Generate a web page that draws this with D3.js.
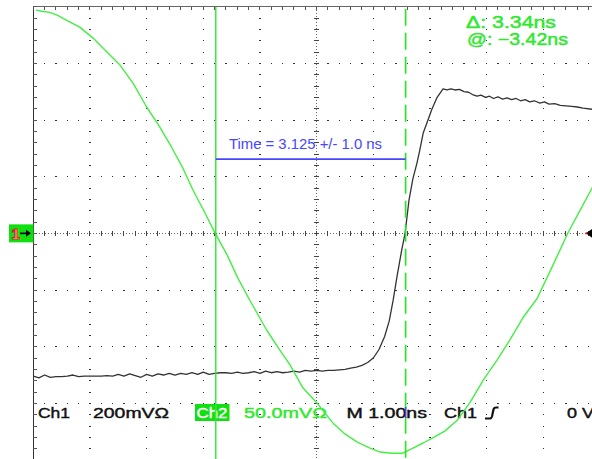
<!DOCTYPE html>
<html><head><meta charset="utf-8">
<script src="https://cdn.jsdelivr.net/npm/d3@7/dist/d3.min.js"></script>
<style>html,body{margin:0;padding:0;background:#fff;overflow:hidden}</style>
</head><body>
<svg id="c" width="592" height="459"></svg>
<script>
// ---- data (time in ns, amplitude in divisions) ----
const ch1T = [-5.00,-4.90,-4.80,-4.70,-4.60,-4.50,-4.40,-4.30,-4.20,-4.10,-4.00,-3.90,-3.80,-3.70,-3.60,-3.50,-3.40,-3.30,-3.20,-3.10,-3.00,-2.90,-2.80,-2.70,-2.60,-2.50,-2.40,-2.30,-2.20,-2.10,-2.00,-1.90,-1.80,-1.70,-1.60,-1.50,-1.40,-1.30,-1.20,-1.10,-1.00,-0.90,-0.80,-0.70,-0.60,-0.50,-0.40,-0.30,-0.20,-0.10,0.00,0.10,0.20,0.30,0.40,0.50,0.60,0.70,0.80,0.90,1.00,1.10,1.20,1.28,1.35,1.42,1.50,1.56,1.63,1.70,1.77,1.82,1.88,1.95,2.03,2.12,2.23,2.30,2.37,2.44,2.52,2.60,2.68,2.75,2.83,2.90,2.98,3.05,3.12,3.20,3.28,3.36,3.44,3.52,3.60,3.68,3.76,3.84,3.94,4.02,4.10,4.20,4.30,4.40,4.50,4.60,4.70,4.86,5.00];
const ch1V = [-2.52,-2.55,-2.50,-2.54,-2.53,-2.53,-2.52,-2.50,-2.53,-2.52,-2.52,-2.52,-2.52,-2.51,-2.52,-2.49,-2.52,-2.48,-2.51,-2.54,-2.49,-2.52,-2.48,-2.50,-2.47,-2.50,-2.47,-2.49,-2.46,-2.49,-2.45,-2.49,-2.47,-2.46,-2.46,-2.47,-2.45,-2.47,-2.46,-2.44,-2.47,-2.43,-2.46,-2.44,-2.46,-2.45,-2.43,-2.45,-2.42,-2.43,-2.42,-2.43,-2.42,-2.42,-2.41,-2.40,-2.38,-2.36,-2.33,-2.28,-2.20,-2.05,-1.82,-1.55,-1.18,-0.75,-0.30,0.00,0.59,0.97,1.24,1.47,1.77,1.96,2.18,2.39,2.55,2.53,2.55,2.53,2.54,2.50,2.49,2.45,2.42,2.44,2.40,2.42,2.38,2.41,2.37,2.39,2.36,2.38,2.34,2.36,2.32,2.34,2.30,2.32,2.28,2.29,2.26,2.25,2.24,2.23,2.21,2.19,2.17];
const ch2T = [-4.95,-4.85,-4.71,-4.58,-4.41,-4.18,-3.95,-3.70,-3.47,-3.24,-3.00,-2.77,-2.56,-2.36,-2.18,-1.97,-1.79,-1.58,-1.39,-1.18,-0.88,-0.65,-0.47,-0.24,0.01,0.29,0.50,0.71,0.94,1.12,1.33,1.52,1.70,1.88,2.05,2.26,2.48,2.71,2.94,3.18,3.41,3.64,3.89,4.17,4.44,4.65,4.86,5.00];
const ch2V = [3.94,3.92,3.90,3.85,3.76,3.64,3.45,3.20,2.97,2.65,2.23,1.88,1.52,1.15,0.76,0.36,0.00,-0.38,-0.79,-1.18,-1.71,-2.06,-2.32,-2.73,-3.00,-3.35,-3.54,-3.68,-3.79,-3.86,-3.88,-3.88,-3.79,-3.70,-3.61,-3.49,-3.30,-2.98,-2.59,-2.24,-1.88,-1.49,-1.15,-0.56,0.02,0.41,0.80,1.05];
const cursorA = -1.78, cursorB = 1.57, cursorLevel = 1.31;
const readoutTop = ["\u0394: 3.34ns", "@: \u22123.42ns"];
const measureLabel = "Time = 3.125 +/- 1.0 ns";
const statusLabels = ["Ch1", "200mV\u03A9", "Ch2", "50.0mV\u03A9", "M 1.00ns", "Ch1", "0 V"];

// ---- scales ----
const svg = d3.select("#c");
const x = d3.scaleLinear().domain([-5,5]).range([33.3,600]);
const y = d3.scaleLinear().domain([-4,4]).range([460,6.7]);
const GREEN = "#2fe82f", BLUE = "#4646ff";

// ---- graticule ----
const g = svg.append("g").attr("shape-rendering","crispEdges");
const minorV = d3.range(-20,21).map(i=>i*0.2);
const minorT = d3.range(-25,26).map(i=>i*0.2);
[-4,-3,-2,-1,1,2,3,4].forEach(t=>{
  g.selectAll(null).data(minorV).enter().append("rect")
   .attr("x",x(t)-0.5).attr("y",d=>y(d)-0.5).attr("width",1.2).attr("height",1.2).attr("fill","#333");
});
[-3,-2,-1,1,2,3].forEach(v=>{
  g.selectAll(null).data(minorT).enter().append("rect")
   .attr("x",d=>x(d)-0.5).attr("y",y(v)-0.5).attr("width",1.2).attr("height",1.2).attr("fill","#333");
});
// center axes
g.append("line").attr("x1",x(-5)).attr("x2",x(5)).attr("y1",y(0)).attr("y2",y(0))
 .attr("stroke","#666").attr("stroke-dasharray","1,2");
g.append("line").attr("x1",x(0)).attr("x2",x(0)).attr("y1",y(4)).attr("y2",y(-4))
 .attr("stroke","#666").attr("stroke-dasharray","1,2");
g.selectAll(null).data(minorT).enter().append("line")
 .attr("x1",d=>x(d)).attr("x2",d=>x(d)).attr("y1",y(0)-2.5).attr("y2",y(0)+2.5).attr("stroke","#444");
g.selectAll(null).data(minorV).enter().append("line")
 .attr("y1",d=>y(d)).attr("y2",d=>y(d)).attr("x1",x(0)-2.5).attr("x2",x(0)+2.5).attr("stroke","#444");
// borders
g.append("line").attr("x1",x(-5)).attr("x2",x(5)).attr("y1",y(4)).attr("y2",y(4)).attr("stroke","#666").attr("stroke-width",1.5);
g.append("line").attr("x1",x(-5)).attr("x2",x(-5)).attr("y1",y(4)).attr("y2",y(-4)).attr("stroke","#333").attr("stroke-width",1.6);
g.selectAll(null).data(minorV).enter().append("line")
 .attr("y1",d=>y(d)).attr("y2",d=>y(d)).attr("x1",x(-5)).attr("x2",x(-5)+3.5).attr("stroke","#555");
g.selectAll(null).data(minorT).enter().append("line")
 .attr("x1",d=>x(d)).attr("x2",d=>x(d)).attr("y1",y(4)).attr("y2",y(4)+3).attr("stroke","#555");

// ---- status text ----
const font = "'Liberation Sans', Arial, sans-serif";
function txt(s, x0, yb, w, size, col, sw){
  const t = svg.append("text").attr("x",x0).attr("y",yb).text(s)
    .attr("font-family",font).attr("font-size",size).attr("fill",col);
  if (w) t.attr("textLength",w).attr("lengthAdjust","spacingAndGlyphs");
  if (sw) t.attr("stroke",col).attr("stroke-width",sw);
  return t;
}
txt(statusLabels[0],38,418,32,15.5,"#111",0.45);
txt(statusLabels[1],93,418,76,15.5,"#111",0.45);
svg.append("rect").attr("x",195).attr("y",404).attr("width",34.5).attr("height",17).attr("fill","#10e010");
txt(statusLabels[2],196.5,418,31,15.5,"#fff",0.45);
txt(statusLabels[3],244,418,83,15.5,GREEN,0.45);
txt(statusLabels[4],346.5,418,80.5,15.5,"#111",0.45);
txt(statusLabels[5],444,418,33,15.5,"#111",0.45);
txt(statusLabels[6],567,418,27,15.5,"#111",0.45);
// trigger slope icon
svg.append("path").attr("d","M485,418.5 L490,418.5 Q492,418.5 492.5,414 L493.5,409.5 Q494,407.5 496,407.5 L498.5,407.5")
 .attr("fill","none").attr("stroke","#111").attr("stroke-width",2.2);

// ---- traces ----
const line = d3.line().x(d=>x(d[0])).y(d=>y(d[1]));
svg.append("path").datum(ch1T.map((t,i)=>[t,ch1V[i]])).attr("d",line)
 .attr("fill","none").attr("stroke","#333").attr("stroke-width",1.3).attr("stroke-linejoin","round");
svg.append("path").datum(ch2T.map((t,i)=>[t,ch2V[i]])).attr("d",line)
 .attr("fill","none").attr("stroke","#44ee44").attr("stroke-width",1.4).attr("stroke-linejoin","round");

// ---- cursors ----
svg.append("line").attr("x1",x(cursorA)).attr("x2",x(cursorA)).attr("y1",y(4)).attr("y2",y(-4))
 .attr("stroke",GREEN).attr("stroke-width",1.4);
svg.append("line").attr("x1",x(cursorB)).attr("x2",x(cursorB)).attr("y1",y(4)+2).attr("y2",y(-4))
 .attr("stroke","#22e822").attr("stroke-width",1.6).attr("stroke-dasharray","17,7");
svg.append("rect").attr("x",x(cursorB)-0.8).attr("y",407).attr("width",1.6).attr("height",11).attr("fill",BLUE);
svg.append("line").attr("x1",x(cursorA)).attr("x2",x(cursorB)).attr("y1",y(cursorLevel)).attr("y2",y(cursorLevel))
 .attr("stroke",BLUE).attr("stroke-width",1.8);
txt(measureLabel,229,149,153,14.5,BLUE);

// ---- readouts ----
txt(readoutTop[0],466,28,90,16.5,GREEN,0.45);
txt(readoutTop[1],467,45,101,16.5,GREEN,0.45);

// ---- channel markers ----
svg.append("rect").attr("x",9).attr("y",y(0)-9).attr("width",24.5).attr("height",18).attr("fill","#10e010");
svg.append("text").attr("x",11.5).attr("y",y(0)+6).text("1").attr("font-family",font).attr("font-weight","bold")
 .attr("font-size",15).attr("fill","#fff").attr("stroke","#e02020").attr("stroke-width",1.2);
svg.append("path").attr("d",`M20,${y(0)} L29,${y(0)}`).attr("stroke","#000").attr("stroke-width",1.6);
svg.append("path").attr("d",`M26,${y(0)-3.5} L31,${y(0)} L26,${y(0)+3.5} Z`).attr("fill","#000");
svg.append("path").attr("d",`M586,${y(0)} L593,${y(0)-5} L593,${y(0)+5} Z`).attr("fill","#000");
svg.append("rect").attr("x",585.5).attr("y",y(0)-1).attr("width",2).attr("height",2).attr("fill","#d02020");
</script>
</body></html>
